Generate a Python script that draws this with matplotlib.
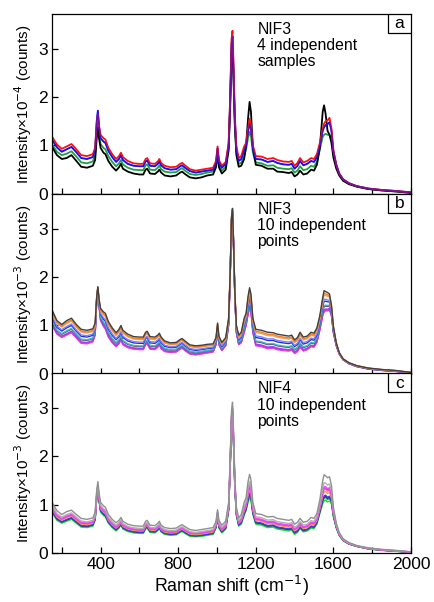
import matplotlib
matplotlib.use("Agg")
import matplotlib.pyplot as plt
from matplotlib.patches import Rectangle
from matplotlib.ticker import MultipleLocator

# Raman shift knots (cm-1)
shift = [150, 175, 200, 225, 250, 275, 300, 330, 360, 372, 380, 386, 392, 400, 415, 425,
         440, 460, 480, 495, 505, 515, 540, 570, 600, 620, 632, 640, 655, 680, 695, 703,
         712, 730, 760, 790, 810, 820, 835, 860, 890, 920, 950, 980, 995, 1003, 1010, 1025,
         1045, 1060, 1068, 1075, 1080, 1085, 1092, 1100, 1112, 1125, 1140, 1150, 1160, 1168,
         1175, 1185, 1200, 1230, 1260, 1290, 1310, 1340, 1370, 1385, 1400, 1415, 1428, 1445,
         1465, 1485, 1500, 1515, 1530, 1545, 1552, 1560, 1570, 1580, 1590, 1600, 1615, 1630,
         1650, 1680, 1720, 1780, 1850, 1920, 2000]

# panel a: NIF3, 4 samples (x1e-4 counts)
a_black = [0.97, 0.80, 0.72, 0.74, 0.80, 0.68, 0.56, 0.54, 0.58, 0.70, 1.15, 1.37, 1.15, 0.95, 0.85, 0.82,
           0.68, 0.56, 0.48, 0.55, 0.62, 0.52, 0.46, 0.42, 0.40, 0.40, 0.50, 0.52, 0.42, 0.41, 0.46, 0.50,
           0.44, 0.38, 0.36, 0.38, 0.44, 0.46, 0.41, 0.34, 0.32, 0.34, 0.38, 0.40, 0.55, 0.85, 0.55, 0.42,
           0.50, 0.90, 1.80, 2.90, 3.00, 2.40, 1.40, 0.80, 0.56, 0.58, 0.72, 1.00, 1.55, 1.90,
           1.70, 0.95, 0.60, 0.58, 0.52, 0.52, 0.46, 0.45, 0.43, 0.45, 0.36, 0.40, 0.48, 0.40,
           0.42, 0.50, 0.48, 0.60, 0.95, 1.70, 1.83, 1.65, 1.30, 1.22, 1.05, 0.75, 0.52, 0.38,
           0.27, 0.20, 0.15, 0.10, 0.07, 0.05, 0.02]
a_red = [1.18, 1.02, 0.93, 0.98, 1.03, 0.92, 0.80, 0.78, 0.82, 0.95, 1.45, 1.65, 1.40, 1.22, 1.15, 1.12,
         0.95, 0.82, 0.72, 0.78, 0.85, 0.76, 0.68, 0.63, 0.62, 0.62, 0.72, 0.74, 0.63, 0.62, 0.67, 0.72,
         0.64, 0.58, 0.55, 0.56, 0.62, 0.64, 0.59, 0.51, 0.48, 0.50, 0.52, 0.54, 0.68, 0.98, 0.70, 0.58,
         0.66, 1.05, 2.00, 3.20, 3.37, 2.70, 1.60, 0.98, 0.74, 0.78, 0.98, 1.05, 1.35, 1.55,
         1.42, 1.00, 0.78, 0.77, 0.72, 0.74, 0.70, 0.67, 0.66, 0.68, 0.58, 0.64, 0.74, 0.65,
         0.68, 0.74, 0.72, 0.82, 1.05, 1.35, 1.45, 1.50, 1.52, 1.57, 1.35, 0.90, 0.60, 0.42,
         0.30, 0.22, 0.16, 0.11, 0.08, 0.06, 0.03]
a_blue = [1.12, 0.96, 0.87, 0.92, 0.97, 0.86, 0.74, 0.72, 0.76, 0.92, 1.50, 1.72, 1.40, 1.15, 1.08, 1.05,
          0.89, 0.76, 0.66, 0.72, 0.80, 0.70, 0.62, 0.58, 0.57, 0.57, 0.67, 0.69, 0.58, 0.57, 0.62, 0.67,
          0.59, 0.53, 0.50, 0.51, 0.57, 0.59, 0.54, 0.47, 0.44, 0.46, 0.48, 0.50, 0.64, 0.94, 0.66, 0.54,
          0.62, 1.00, 1.95, 3.10, 3.25, 2.60, 1.55, 0.92, 0.68, 0.72, 0.90, 1.00, 1.28, 1.45,
          1.35, 0.95, 0.72, 0.71, 0.66, 0.68, 0.64, 0.61, 0.60, 0.62, 0.52, 0.58, 0.68, 0.59,
          0.62, 0.68, 0.66, 0.76, 1.00, 1.30, 1.38, 1.42, 1.44, 1.48, 1.30, 0.88, 0.60, 0.42,
          0.30, 0.22, 0.16, 0.11, 0.08, 0.06, 0.03]
a_green = [1.02, 0.87, 0.80, 0.83, 0.88, 0.77, 0.65, 0.63, 0.67, 0.80, 1.25, 1.45, 1.22, 1.03, 0.95, 0.92,
           0.78, 0.66, 0.57, 0.63, 0.70, 0.61, 0.54, 0.50, 0.49, 0.49, 0.59, 0.61, 0.50, 0.49, 0.54, 0.59,
           0.51, 0.46, 0.44, 0.45, 0.51, 0.53, 0.48, 0.41, 0.39, 0.41, 0.44, 0.46, 0.60, 0.90, 0.60, 0.48,
           0.56, 0.95, 1.85, 3.00, 3.10, 2.50, 1.45, 0.85, 0.62, 0.64, 0.78, 0.92, 1.15, 1.28,
           1.20, 0.85, 0.65, 0.63, 0.58, 0.59, 0.54, 0.52, 0.51, 0.53, 0.44, 0.48, 0.57, 0.49,
           0.51, 0.58, 0.56, 0.66, 0.92, 1.18, 1.22, 1.24, 1.22, 1.22, 1.15, 0.82, 0.56, 0.40,
           0.28, 0.21, 0.15, 0.10, 0.07, 0.05, 0.02]

# panel b: NIF3, 10 points -> upper and lower envelope (x1e-3 counts)
b_hi = [1.32, 1.10, 1.02, 1.10, 1.15, 1.02, 0.92, 0.90, 0.93, 1.05, 1.60, 1.80, 1.55, 1.35, 1.28, 1.25,
        1.08, 0.95, 0.85, 0.92, 1.00, 0.90, 0.82, 0.77, 0.76, 0.76, 0.86, 0.88, 0.77, 0.76, 0.80, 0.84,
        0.76, 0.68, 0.64, 0.65, 0.71, 0.73, 0.68, 0.60, 0.58, 0.59, 0.61, 0.62, 0.75, 1.05, 0.78, 0.65,
        0.75, 1.15, 2.10, 3.25, 3.42, 2.80, 1.70, 1.00, 0.80, 0.86, 1.15, 1.25, 1.60, 1.78,
        1.65, 1.15, 0.92, 0.90, 0.86, 0.85, 0.82, 0.80, 0.78, 0.80, 0.70, 0.75, 0.86, 0.76,
        0.78, 0.86, 0.84, 0.95, 1.20, 1.58, 1.72, 1.70, 1.68, 1.65, 1.42, 0.98, 0.64, 0.44,
        0.31, 0.23, 0.17, 0.12, 0.09, 0.07, 0.03]
b_lo = [1.00, 0.82, 0.75, 0.80, 0.85, 0.74, 0.63, 0.62, 0.66, 0.80, 1.50, 1.75, 1.40, 1.10, 0.98, 0.92,
        0.76, 0.64, 0.56, 0.62, 0.70, 0.60, 0.54, 0.51, 0.50, 0.50, 0.60, 0.62, 0.51, 0.50, 0.55, 0.60,
        0.52, 0.46, 0.44, 0.45, 0.51, 0.53, 0.48, 0.41, 0.39, 0.41, 0.43, 0.45, 0.60, 0.90, 0.60, 0.48,
        0.58, 1.00, 2.00, 3.15, 3.30, 2.70, 1.60, 0.85, 0.60, 0.64, 0.85, 1.00, 1.22, 1.35,
        1.28, 0.85, 0.58, 0.56, 0.52, 0.53, 0.50, 0.48, 0.47, 0.49, 0.42, 0.46, 0.55, 0.47,
        0.50, 0.56, 0.55, 0.65, 0.90, 1.20, 1.28, 1.30, 1.30, 1.32, 1.20, 0.85, 0.58, 0.41,
        0.29, 0.21, 0.15, 0.10, 0.07, 0.05, 0.02]
b_colors = ["#ff2020", "#e040e0", "#a040f0", "#604080", "#40c0b0", "#2030e0", "#8080ff", "#f0a060",
            "#f08020", "#404040"]
b_levels = [0.05, 0.0, 0.1, 0.25, 0.3, 0.5, 0.6, 0.8, 0.88, 1.0]

# panel c: NIF4, 10 points
c_hi = [1.05, 0.88, 0.80, 0.86, 0.89, 0.80, 0.72, 0.70, 0.73, 0.85, 1.30, 1.48, 1.25, 1.05, 0.98, 0.95,
        0.80, 0.70, 0.63, 0.68, 0.74, 0.66, 0.60, 0.57, 0.56, 0.56, 0.66, 0.68, 0.58, 0.57, 0.62, 0.66,
        0.58, 0.53, 0.51, 0.52, 0.57, 0.59, 0.55, 0.49, 0.47, 0.49, 0.51, 0.53, 0.66, 0.90, 0.68, 0.58,
        0.66, 1.05, 1.95, 2.95, 3.12, 2.55, 1.55, 0.95, 0.73, 0.80, 1.05, 1.15, 1.48, 1.63,
        1.52, 1.05, 0.82, 0.80, 0.75, 0.76, 0.72, 0.70, 0.68, 0.70, 0.60, 0.64, 0.72, 0.64,
        0.66, 0.74, 0.72, 0.82, 1.10, 1.50, 1.62, 1.60, 1.56, 1.58, 1.40, 0.95, 0.62, 0.43,
        0.30, 0.22, 0.16, 0.11, 0.08, 0.06, 0.03]
c_lo = [0.84, 0.68, 0.62, 0.66, 0.70, 0.62, 0.54, 0.53, 0.56, 0.68, 1.12, 1.30, 1.08, 0.85, 0.78, 0.75,
        0.62, 0.53, 0.46, 0.52, 0.58, 0.50, 0.45, 0.42, 0.41, 0.41, 0.50, 0.52, 0.43, 0.42, 0.47, 0.51,
        0.44, 0.39, 0.37, 0.38, 0.43, 0.45, 0.41, 0.35, 0.34, 0.35, 0.37, 0.39, 0.52, 0.76, 0.52, 0.42,
        0.50, 0.88, 1.75, 2.70, 2.85, 2.30, 1.35, 0.78, 0.56, 0.60, 0.78, 0.88, 1.05, 1.15,
        1.10, 0.80, 0.60, 0.58, 0.53, 0.54, 0.50, 0.48, 0.46, 0.48, 0.39, 0.43, 0.51, 0.44,
        0.46, 0.52, 0.51, 0.60, 0.82, 1.02, 1.08, 1.10, 1.06, 1.08, 1.02, 0.75, 0.52, 0.37,
        0.26, 0.19, 0.14, 0.09, 0.06, 0.04, 0.02]
c_colors = ["#20e020", "#20a0a0", "#303060", "#4040e0", "#f0a040", "#ff60a0", "#c040ff", "#ff40ff",
            "#b0b0b0", "#909090"]
c_levels = [0.0, 0.1, 0.15, 0.2, 0.35, 0.45, 0.5, 0.55, 0.7, 1.0]

x_ticks = [400, 800, 1200, 1600, 2000]


def blend(lo, hi, w):
    return [l + w * (h - l) for l, h in zip(lo, hi)]


plt.rcParams["font.family"] = "Liberation Sans"
fig = plt.figure(figsize=(4.34, 6.02), dpi=100)

left, width, h = 0.12, 0.827, 0.299
bottoms = [0.678, 0.379, 0.081]
axes = [fig.add_axes([left, b, width, h]) for b in bottoms]

ax = axes[0]
for y, col in zip([a_green, a_black, a_blue, a_red], ["#20a040", "black", "#1010ff", "#ff1010"]):
    ax.plot(shift, y, color=col, lw=1.3)
ax.plot(shift, a_blue, color="#1010ff", lw=1.0, alpha=0.6)

for lev, col in zip(b_levels, b_colors):
    axes[1].plot(shift, blend(b_lo, b_hi, lev), color=col, lw=1.0)
for lev, col in zip(c_levels, c_colors):
    axes[2].plot(shift, blend(c_lo, c_hi, lev), color=col, lw=1.0)

texts = ["NIF3\n4 independent\nsamples", "NIF3\n10 independent\npoints", "NIF4\n10 independent\npoints"]
letters = ["a", "b", "c"]
ylabels = ["Intensity\u00d710$^{-4}$ (counts)", "Intensity\u00d710$^{-3}$ (counts)",
           "Intensity\u00d710$^{-3}$ (counts)"]

for i, ax in enumerate(axes):
    ax.set_xlim(150, 2000)
    ax.set_ylim(0, 3.72)
    ax.set_yticks([0, 1, 2, 3])
    ax.xaxis.set_major_locator(MultipleLocator(400))
    ax.xaxis.set_minor_locator(MultipleLocator(200))
    ax.tick_params(direction="in", length=4, labelsize=12.5, width=0.9, pad=3)
    ax.tick_params(which="minor", direction="in", length=4, width=0.9)
    for s in ax.spines.values():
        s.set_linewidth(0.9)
    ax.set_ylabel(ylabels[i], fontsize=11, labelpad=3)
    ax.text(0.572, 0.955, texts[i], transform=ax.transAxes, va="top", ha="left",
            fontsize=11.3, linespacing=1.1)
    # boxed panel letter sitting in the top-right corner
    ax.add_patch(Rectangle((0.936, 0.895), 0.064, 0.105, transform=ax.transAxes,
                           fc="white", ec="black", lw=0.9, zorder=5))
    ax.text(0.968, 0.945, letters[i], transform=ax.transAxes, va="center", ha="center",
            fontsize=12.5, zorder=6)
    if i < 2:
        ax.tick_params(labelbottom=False)
    else:
        ax.set_xticks(x_ticks)
        ax.set_xlabel("Raman shift (cm$^{-1}$)", fontsize=12.8, labelpad=1)

fig.savefig("out.png", dpi=100)
